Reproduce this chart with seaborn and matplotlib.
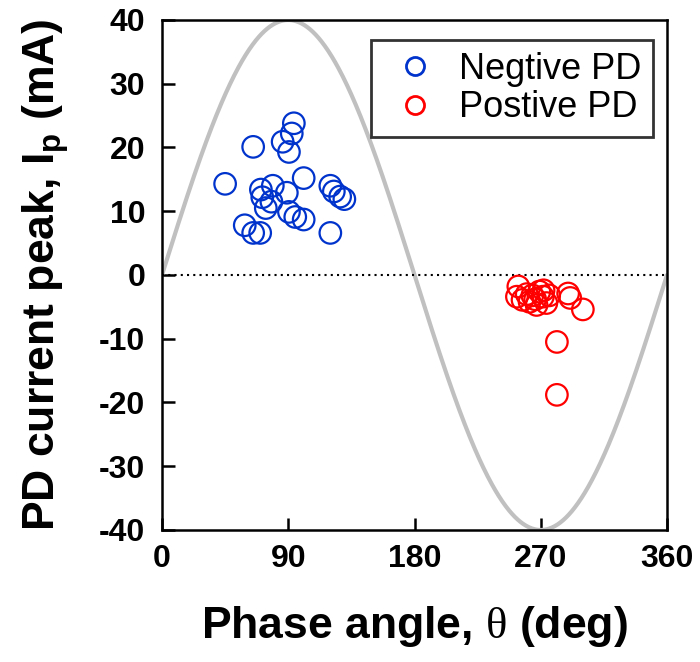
import numpy as np
import pandas as pd
import matplotlib
matplotlib.use("Agg")
import matplotlib.pyplot as plt
import seaborn as sns
from matplotlib.lines import Line2D

neg_theta = [94, 92.5, 86, 90.5, 65, 45, 101, 120, 122.5, 127, 130, 79, 70.5, 89,
             71.5, 74, 90.5, 95, 101, 59, 65, 70, 120, 78]
neg_peak = [23.8, 22.2, 20.9, 19.3, 20.1, 14.3, 15.2, 14.0, 13.1, 12.3, 11.9, 14.0,
            13.4, 12.9, 12.2, 10.5, 9.9, 9.1, 8.7, 7.8, 6.6, 6.6, 6.6, 11.5]
pos_theta = [254, 253, 257, 262, 269, 271.5, 267, 274, 264, 266, 272, 289.5, 291,
             300, 281.5, 281.5, 260, 276]
pos_peak = [-1.8, -3.4, -3.9, -4.2, -2.6, -3.4, -4.7, -4.4, -3.2, -3.8, -2.4, -2.9,
            -3.6, -5.4, -10.5, -18.8, -3.0, -3.2]
amplitude = 40
x_ticks = [0, 90, 180, 270, 360]
y_ticks = [-40, -30, -20, -10, 0, 10, 20, 30, 40]
series_labels = ["Negtive PD", "Postive PD"]
series_colors = ["#0033cc", "#ff0000"]

sns.set_style("ticks")
plt.rcParams["font.family"] = ["Liberation Sans", "DejaVu Sans"]
plt.rcParams["mathtext.fontset"] = "custom"
plt.rcParams["mathtext.bf"] = "Liberation Sans:bold"
plt.rcParams["mathtext.rm"] = "Liberation Serif"
plt.rcParams["axes.unicode_minus"] = False
plt.rcParams["text.color"] = "black"
plt.rcParams["axes.labelcolor"] = "black"
plt.rcParams["xtick.color"] = "black"
plt.rcParams["ytick.color"] = "black"

fig = plt.figure(figsize=(7, 6.62), dpi=100)
ax = fig.add_axes([0.2314, 0.1994, 0.7215, 0.7704])

theta = np.linspace(0, 360, 721)
sine = pd.DataFrame({"theta": theta, "I": amplitude * np.sin(np.deg2rad(theta))})
sns.lineplot(data=sine, x="theta", y="I", ax=ax, color="#c0c0c0", lw=3, zorder=1)
ax.axhline(0, color="black", lw=1.5, ls=(0, (1, 2)), zorder=2)

neg = pd.DataFrame({"theta": neg_theta, "I": neg_peak})
pos = pd.DataFrame({"theta": pos_theta, "I": pos_peak})
for df, col in zip([neg, pos], series_colors):
    sns.scatterplot(data=df, x="theta", y="I", ax=ax, marker="o", s=240,
                    linewidth=1.6, zorder=3)
    coll = ax.collections[-1]
    coll.set_facecolor("none")
    coll.set_edgecolor(col)

ax.set_xlim(0, 360)
ax.set_ylim(-40, 40)
ax.set_xticks(x_ticks)
ax.set_yticks(y_ticks)
ax.tick_params(direction="in", length=9, width=1.8, labelsize=23)
ax.tick_params(axis="x", pad=10)
ax.tick_params(axis="y", pad=12)
for lbl in ax.get_xticklabels() + ax.get_yticklabels():
    lbl.set_fontweight("bold")
for sp in ax.spines.values():
    sp.set_linewidth(1.8)
    sp.set_color("black")
    sp.set_visible(True)

ax.set_xlabel(r"Phase angle, $\mathrm{\theta}$ (deg)", fontsize=32, fontweight="bold", labelpad=22)
ax.set_ylabel(r"PD current peak, I$_\mathbf{p}$ (mA)", fontsize=32, fontweight="bold", labelpad=20)

handles = [Line2D([], [], marker="o", ls="none", markerfacecolor="none",
                  markeredgecolor=c, markeredgewidth=2, markersize=13) for c in series_colors]
leg = ax.legend(handles, series_labels, loc="upper right", fontsize=26, frameon=True,
                fancybox=False, edgecolor="black", handletextpad=0.3, borderpad=0.33,
                labelspacing=0.1, handlelength=1.8, borderaxespad=0,
                bbox_to_anchor=(0.972, 0.961))
leg.get_frame().set_linewidth(2)

fig.savefig("out.png", dpi=100)
